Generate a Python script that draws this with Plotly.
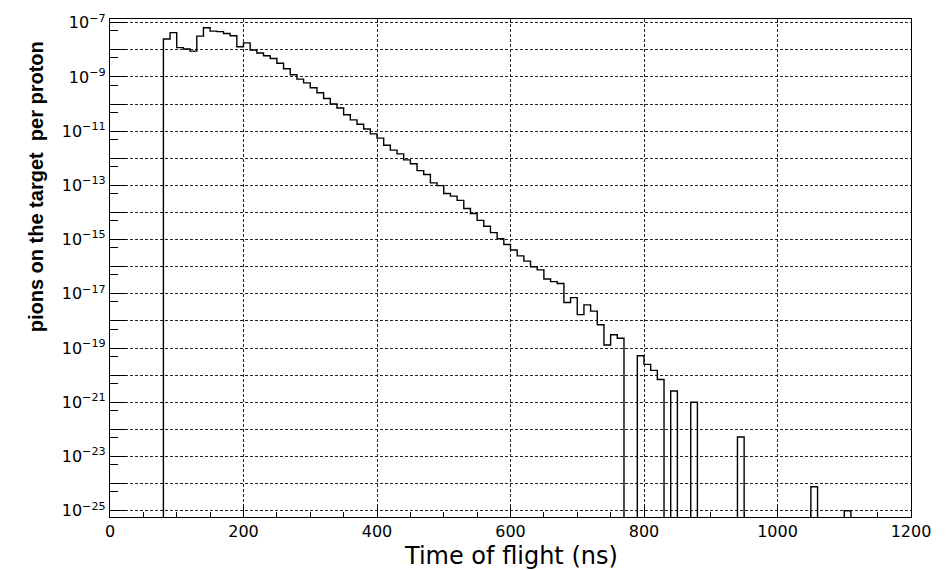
import plotly.graph_objects as go

# ---- data ----
bin_width = 10
first_edge = 80
# contents of consecutive 10 ns bins starting at 80 ns (0 = empty bin)
contents = [
    2.5e-8, 4.3e-8, 1.2e-8, 1.07e-8, 8.9e-9, 3.2e-8, 6.5e-8, 4.9e-8, 4.7e-8, 4.0e-8,   # 80-180
    3.3e-8, 1.3e-8, 1.8e-8, 9.8e-9, 7.6e-9, 6.0e-9, 4.8e-9, 3.2e-9, 2.0e-9, 1.2e-9,   # 180-280
    8.3e-10, 6.0e-10, 4.0e-10, 2.6e-10, 1.6e-10, 1.0e-10, 7.1e-11, 4.0e-11, 2.6e-11, 1.8e-11,  # 280-380
    1.2e-11, 7.9e-12, 5.5e-12, 3.0e-12, 2.0e-12, 1.45e-12, 8.7e-13, 6.3e-13, 3.5e-13, 2.5e-13,  # 380-480
    1.23e-13, 9.8e-14, 5.0e-14, 4.0e-14, 2.8e-14, 1.4e-14, 9.1e-15, 5.1e-15, 3.1e-15, 1.8e-15,  # 480-580
    1.07e-15, 6.6e-16, 4.1e-16, 2.5e-16, 1.6e-16, 1.0e-16, 7.6e-17, 3.5e-17, 2.8e-17, 2.4e-17,  # 580-680
    4.8e-18, 7.2e-18, 1.7e-18, 3.9e-18, 2.3e-18, 7.2e-19, 1.3e-19, 3.1e-19, 2.3e-19, 0,      # 680-780
    0, 5.2e-20, 2.5e-20, 1.5e-20, 6.9e-21, 0, 2.6e-21, 0, 0, 1.0e-21,                      # 780-880
    0, 0, 0, 0, 0, 0, 5.2e-23, 0, 0, 0,                                                     # 880-980
    0, 0, 0, 0, 0, 0, 0, 7.6e-25, 0, 0,                                                     # 980-1080
    0, 0, 1.0e-25,                                                                          # 1080-1110
]

x_ticks = [0, 200, 400, 600, 800, 1000, 1200]
y_decades = list(range(-7, -26, -1))
y_minor = [5 * 10.0 ** d for d in range(-8, -26, -1)]

x_title = "Time of flight (ns)"
y_title = "pions on the target \u00a0per proton"

# ---- build step outline ----
floor = 1e-30  # drawn below the axis for empty bins
edges = [first_edge + i * bin_width for i in range(len(contents) + 1)]
xs = [edges[0]] + edges
ys = [floor] + [c if c > 0 else floor for c in contents] + [floor]

fig = go.Figure()
fig.add_trace(go.Scatter(
    x=xs, y=ys, mode="lines", line=dict(shape="hv", color="black", width=1.4),
    showlegend=False, hoverinfo="skip", cliponaxis=True,
))

grid_style = dict(showgrid=True, gridcolor="#222", gridwidth=1, griddash="3px,2px")

fig.update_xaxes(
    range=[0, 1200], tickvals=x_ticks, ticktext=[str(v) for v in x_ticks],
    ticks="inside", ticklen=10, tickcolor="black", tickwidth=1,
    minor=dict(dtick=50, ticks="inside", ticklen=5, tickcolor="black", showgrid=False),
    showline=True, linecolor="black", linewidth=1.2, mirror=True,
    tickfont=dict(family="DejaVu Sans", size=16, color="black"),
    zeroline=False, **grid_style,
)

y_tickvals = [10.0 ** d for d in y_decades]
y_ticktext = [("10<sup>\u2212%d</sup>" % (-d)) if d % 2 else "" for d in y_decades]
fig.update_yaxes(
    type="log", range=[-25.233, -6.864],
    tickvals=y_tickvals, ticktext=y_ticktext,
    ticks="inside", ticklen=16, tickcolor="black", tickwidth=1,
    minor=dict(tickvals=y_minor, ticks="inside", ticklen=8, tickcolor="black", showgrid=False),
    showline=True, linecolor="black", linewidth=1.2, mirror=True,
    tickfont=dict(family="DejaVu Sans", size=16, color="black"),
    zeroline=False, **grid_style,
)

fig.add_annotation(
    text=x_title, xref="paper", yref="paper", x=0.5, y=-0.078,
    xanchor="center", yanchor="middle", showarrow=False,
    font=dict(family="DejaVu Sans", size=24, color="black"),
)
fig.add_annotation(
    text=y_title, xref="paper", yref="paper", x=-0.0924, y=0.664,
    xanchor="center", yanchor="middle", showarrow=False, textangle=-90,
    font=dict(family="Liberation Sans", size=20, color="black", weight="bold"),
)

fig.update_layout(
    width=948, height=570,
    margin=dict(l=110, r=37, t=17, b=53),
    plot_bgcolor="white", paper_bgcolor="white",
)

fig.write_html("out.html")
